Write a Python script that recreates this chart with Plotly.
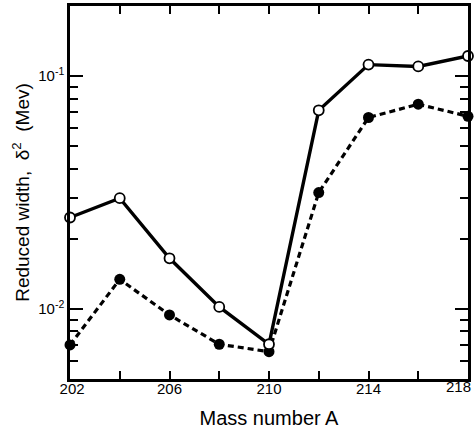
import plotly.graph_objects as go

mass = [202, 204, 206, 208, 210, 212, 214, 216, 218]
open_vals = [0.0247, 0.0299, 0.0165, 0.0102, 0.00705, 0.0713, 0.112, 0.110, 0.122]
filled_vals = [0.0070, 0.0134, 0.00942, 0.00705, 0.00655, 0.0316, 0.0664, 0.0757, 0.0672]
x_tick_labels = ["202", "206", "210", "214", "218"]
y_tick_vals = [0.01, 0.1]
y_tick_text = ["10<sup>-2</sup>", "10<sup>-1</sup>"]

x_tick_vals = [int(v) for v in x_tick_labels]
# edge labels: first nudged right, last drawn right-aligned at the axis end
x_tick_text = list(x_tick_labels)
x_tick_text[0] = "\u00a0" + x_tick_text[0]
x_tick_text[-1] = ""

fig = go.Figure()
fig.add_trace(go.Scatter(
    x=mass, y=filled_vals, mode="lines+markers",
    line=dict(color="black", width=3.2, dash="6px,4px"),
    marker=dict(symbol="circle", size=11, color="black"),
    cliponaxis=False, showlegend=False))
fig.add_trace(go.Scatter(
    x=mass, y=open_vals, mode="lines+markers",
    line=dict(color="black", width=3.4),
    marker=dict(symbol="circle", size=10, color="white", line=dict(color="black", width=1.8)),
    cliponaxis=False, showlegend=False))

minor_vals = [m * 10 ** e for e in (-3, -2, -1) for m in range(2, 10)]

fig.add_annotation(
    x=x_tick_vals[-1], xref="x", y=0, yref="paper",
    text=x_tick_labels[-1], showarrow=False,
    xanchor="right", yanchor="top", xshift=5, yshift=3,
    font=dict(size=15, color="black"))

fig.update_layout(
    width=474, height=433,
    margin=dict(l=70, r=6, t=6, b=54, autoexpand=False),
    paper_bgcolor="white", plot_bgcolor="white",
    font=dict(family="Liberation Sans, Arial, sans-serif", color="black", size=15),
    xaxis=dict(
        range=[202, 218], automargin=False,
        tickvals=x_tick_vals,
        ticktext=x_tick_text,
        ticks="inside", ticklen=8, tickwidth=2, tickcolor="black",
        ticklabelstandoff=-6,
        minor=dict(dtick=2, tick0=202, ticks="inside", ticklen=8, tickwidth=2, tickcolor="black"),
        showline=True, linewidth=2.5, linecolor="black", mirror="ticks",
        showgrid=False, zeroline=False,
        title=dict(text="Mass number A", font=dict(size=20), standoff=16),
    ),
    yaxis=dict(
        type="log", automargin=False,
        range=[-2.301, -0.699],
        tickvals=y_tick_vals, ticktext=y_tick_text,
        ticks="inside", ticklen=13, tickwidth=2, tickcolor="black",
        minor=dict(tickvals=minor_vals, ticks="inside", ticklen=8, tickwidth=1.5, tickcolor="black", showgrid=False),
        showline=True, linewidth=2.5, linecolor="black", mirror="ticks",
        showgrid=False, zeroline=False,
        title=dict(text="Reduced width,  δ<sup>2</sup>  (Mev)", font=dict(size=19), standoff=4),
    ),
)

fig.write_html("out.html", config={"displayModeBar": False},
               post_script="document.body.style.margin='0';")
